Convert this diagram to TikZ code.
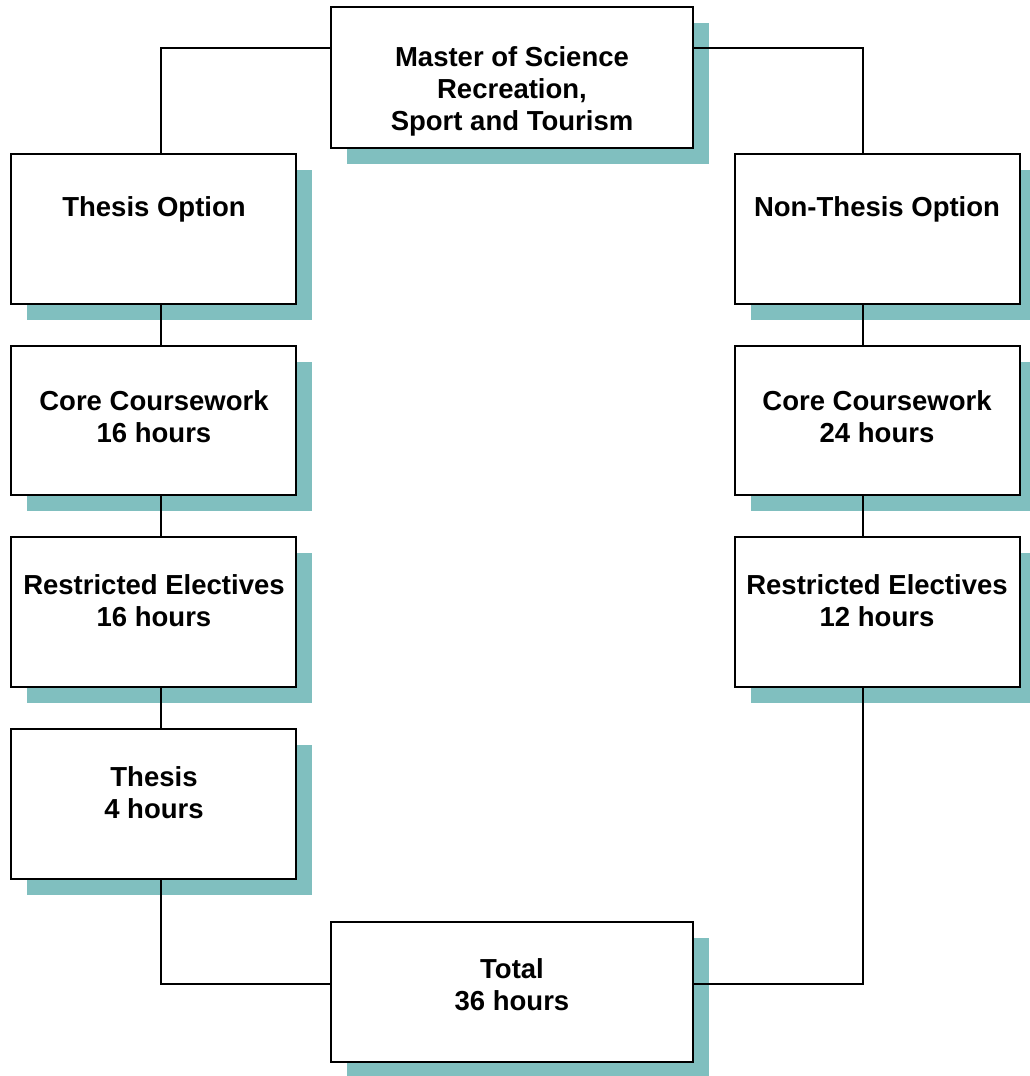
\documentclass[tikz,border=0pt]{standalone}
\usepackage{fontspec}
\setmainfont{Liberation Sans}
\usetikzlibrary{shadows}
\definecolor{shadowc}{HTML}{80BFBF}
\tikzset{
  box/.style={draw=black, line width=1.4pt, fill=white, rectangle, inner sep=0pt,
    general shadow={fill=shadowc, shadow xshift=16pt, shadow yshift=-16pt}},
  wide/.style={minimum width=362pt, minimum height=141pt},
  narrow/.style={minimum width=285pt, minimum height=150pt},
  txt/.style={align=center, inner sep=0pt, font=\fontsize{27.5}{32}\selectfont\bfseries},
  conn/.style={draw=black, line width=1.4pt}
}
\begin{document}
\begin{tikzpicture}[x=1pt, y=-1pt]
\useasboundingbox (0,0) rectangle (1029,1076);
% boxes
\node[box, wide] (top) at (512,77.5) {};
\node[box, narrow] (lopt) at (153.5,229) {};
\node[box, narrow, minimum height=149pt] (lcore) at (153.5,420.5) {};
\node[box, narrow] (lrest) at (153.5,612) {};
\node[box, narrow] (lthes) at (153.5,804) {};
\node[box, narrow] (ropt) at (877.5,229) {};
\node[box, narrow, minimum height=149pt] (rcore) at (877.5,420.5) {};
\node[box, narrow] (rrest) at (877.5,612) {};
\node[box, wide, minimum height=140pt] (total) at (512,992) {};
% texts
\node[txt] (ttop) at (512,91) {Master of Science\\Recreation,\\Sport and Tourism};
\node[txt] (tlopt) at (154,209) {Thesis Option};
\node[txt] (tlcore) at (154,417) {Core Coursework\\16 hours};
\node[txt] (tlrest) at (154,601) {Restricted Electives\\16 hours};
\node[txt] (tlthes) at (154,793) {Thesis\\4 hours};
\node[txt] (tropt) at (877,209) {Non-Thesis Option};
\node[txt] (trcore) at (877,417) {Core Coursework\\24 hours};
\node[txt] (trrest) at (877,601) {Restricted Electives\\12 hours};
\node[txt] (ttotal) at (512,985) {Total\\36 hours};
% connectors
\coordinate (tl) at ([yshift=29.5pt]top.west);
\coordinate (tr) at ([yshift=29.5pt]top.east);
\draw[conn] (tl) -| ([xshift=7.5pt]lopt.north);
\draw[conn] (tr) -| ([xshift=-14.5pt]ropt.north);
\draw[conn] ([xshift=7.5pt]lopt.south) -- ([xshift=7.5pt]lcore.north);
\draw[conn] ([xshift=7.5pt]lcore.south) -- ([xshift=7.5pt]lrest.north);
\draw[conn] ([xshift=7.5pt]lrest.south) -- ([xshift=7.5pt]lthes.north);
\draw[conn] ([xshift=-14.5pt]ropt.south) -- ([xshift=-14.5pt]rcore.north);
\draw[conn] ([xshift=-14.5pt]rcore.south) -- ([xshift=-14.5pt]rrest.north);
\coordinate (bl) at ([yshift=8pt]total.west);
\coordinate (br) at ([yshift=8pt]total.east);
\draw[conn] ([xshift=7.5pt]lthes.south) |- (bl);
\draw[conn] ([xshift=-14.5pt]rrest.south) |- (br);
\end{tikzpicture}
\end{document}
